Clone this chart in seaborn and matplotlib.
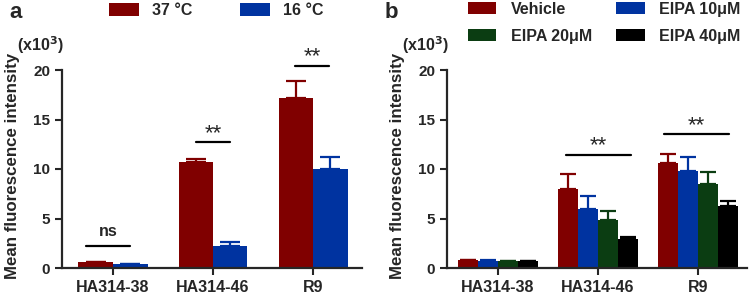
import pandas as pd
import matplotlib
matplotlib.use("Agg")
import matplotlib.pyplot as plt
import seaborn as sns

sns.set_style("ticks")
plt.rcParams['font.family'] = ['Liberation Sans', 'DejaVu Sans']
plt.rcParams['font.weight'] = 'bold'

# panel a data (x10^3)
cells = ['HA314-38', 'HA314-46', 'R9']
temps = ['37 °C', '16 °C']
temp_colors = ['#800000', '#0033a0']
mean_37 = [0.6, 10.7, 17.2]
err_37 = [0.05, 0.35, 1.7]
mean_16 = [0.36, 2.25, 10.05]
err_16 = [0.05, 0.4, 1.2]

# panel b data (x10^3)
treatments = ['Vehicle', 'EIPA 10μM', 'EIPA 20μM', 'EIPA 40μM']
treat_colors = ['#800000', '#0033a0', '#0b3d12', '#000000']
mean_vehicle = [0.8, 8.0, 10.6]
err_vehicle = [0.05, 1.5, 0.95]
mean_eipa10 = [0.75, 5.95, 9.8]
err_eipa10 = [0.05, 1.3, 1.4]
mean_eipa20 = [0.7, 4.8, 8.45]
err_eipa20 = [0.05, 0.95, 1.2]
mean_eipa40 = [0.7, 2.9, 6.25]
err_eipa40 = [0.05, 0.25, 0.5]

# significance brackets: (center, half width, line y, label)
brackets_a = [(-0.05, 0.22, 2.2, 'ns'), (1.0, 0.17, 12.7, '**'), (1.99, 0.17, 20.4, '**')]
brackets_b = [(1.0, 0.325, 11.4, '**'), (1.98, 0.325, 13.5, '**')]

df_a = pd.DataFrame({
    'cell': cells * 2,
    'cond': [temps[0]] * 3 + [temps[1]] * 3,
    'val': mean_37 + mean_16,
    'err': err_37 + err_16,
})
df_b = pd.DataFrame({
    'cell': cells * 4,
    'cond': sum([[t] * 3 for t in treatments], []),
    'val': mean_vehicle + mean_eipa10 + mean_eipa20 + mean_eipa40,
    'err': err_vehicle + err_eipa10 + err_eipa20 + err_eipa40,
})

fig = plt.figure(figsize=(7.49, 2.98), dpi=100)
ax_a = fig.add_axes([62 / 749, 1 - 268 / 298, 300 / 749, 198 / 298])
ax_b = fig.add_axes([447 / 749, 1 - 268 / 298, 300 / 749, 198 / 298])


def draw_panel(ax, df, order, colors, width, capsize, brackets):
    sns.barplot(data=df, x='cell', y='val', hue='cond', hue_order=order,
                palette=colors, saturation=1, width=width, errorbar=None,
                ax=ax, linewidth=0)
    for cont, name, col in zip(ax.containers, order, colors):
        sub = df[df['cond'] == name]
        xs = [b.get_x() + b.get_width() / 2 for b in cont]
        ys = [b.get_height() for b in cont]
        ax.errorbar(xs, ys, yerr=[[0] * len(xs), list(sub['err'])], fmt='none',
                    ecolor=col, elinewidth=1.6, capsize=capsize, capthick=1.6,
                    zorder=1)
    for c, hw, y, lab in brackets:
        ax.plot([c - hw, c + hw], [y, y], color='black', lw=1.6, clip_on=False)
        if lab == 'ns':
            ax.text(c, y + 1.0, lab, ha='center', va='baseline', fontsize=11.5,
                    fontweight='bold')
        else:
            ax.text(c, y + 0.35, lab, ha='center', va='baseline', fontsize=16,
                    fontweight='normal')
    ax.set_ylim(0, 20)
    ax.set_yticks([0, 5, 10, 15, 20])
    ax.set_xlim(-0.51, 2.49)
    ax.set_xlabel('')
    ax.set_ylabel('Mean fluorescence intensity', fontsize=12.2, fontweight='bold')
    ax.yaxis.set_label_coords(-0.14, 0.513)
    ax.tick_params(axis='y', labelsize=11, width=1.5, length=5)
    ax.tick_params(axis='x', labelsize=11.5, width=1.5, length=5)
    for lab in ax.get_xticklabels() + ax.get_yticklabels():
        lab.set_fontweight('bold')
    sns.despine(ax=ax)
    for s in ['left', 'bottom']:
        ax.spines[s].set_linewidth(1.6)
    ax.text(0.005, 1.07, '(x10$^{\\mathbf{3}}$)', transform=ax.transAxes,
            ha='right', va='bottom', fontsize=11.5, fontweight='bold')


draw_panel(ax_a, df_a, temps, temp_colors, 0.69, 7, brackets_a)
draw_panel(ax_b, df_b, treatments, treat_colors, 0.8, 5.5, brackets_b)

sns.move_legend(ax_a, 'upper left', bbox_to_anchor=(107 / 749, 0.995),
                bbox_transform=fig.transFigure, ncol=2, title=None,
                frameon=False, fontsize=11.5, handlelength=1.9, handleheight=0.8,
                handletextpad=0.8, columnspacing=3.0, borderaxespad=0,
                borderpad=0.1)

# panel b legend: fill row by row
leg_b = ax_b.get_legend()
handles_b = list(leg_b.legend_handles)
labels_b = [t.get_text() for t in leg_b.get_texts()]
row_order = [0, 2, 1, 3]
ax_b.legend([handles_b[i] for i in row_order], [labels_b[i] for i in row_order],
            loc='upper left', bbox_to_anchor=(466 / 749, 1.0),
            bbox_transform=fig.transFigure, ncol=2, frameon=False, fontsize=11.5,
            handlelength=1.8, handleheight=0.8, handletextpad=0.9,
            columnspacing=1.5, labelspacing=0.75, borderaxespad=0, borderpad=0.1)
for ax in [ax_a, ax_b]:
    for t in ax.get_legend().get_texts():
        t.set_fontweight('bold')

fig.text(9 / 749, 1 - 18 / 298, 'a', fontsize=16, fontweight='bold')
fig.text(385 / 749, 1 - 18 / 298, 'b', fontsize=16, fontweight='bold')

fig.savefig('out.png', dpi=100)
